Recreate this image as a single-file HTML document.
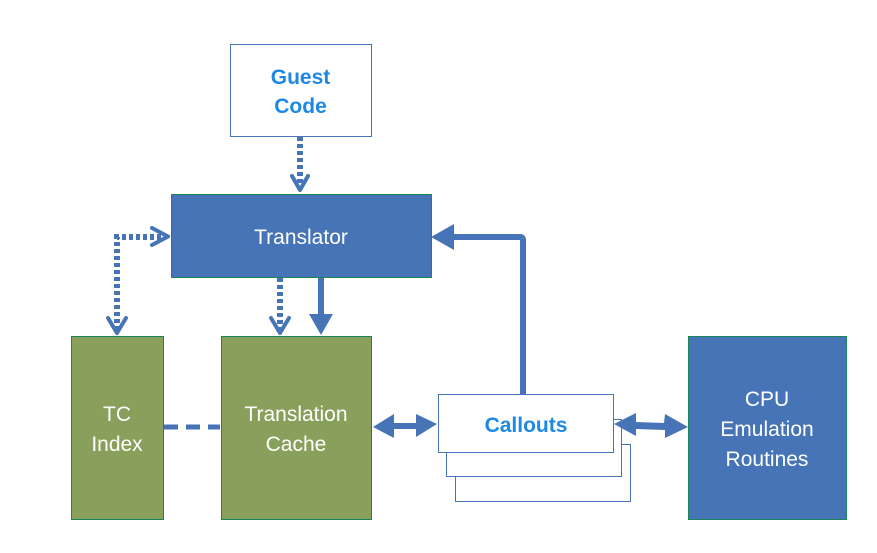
<!DOCTYPE html>
<html><head><meta charset="utf-8"><style>
html,body{margin:0;padding:0;background:#fff;width:877px;height:553px;overflow:hidden}
text{font-family:"Liberation Sans",sans-serif}
</style></head><body>
<svg width="877" height="553" viewBox="0 0 877 553" xmlns="http://www.w3.org/2000/svg">
<g fill="#fff">
<rect x="230.5" y="44.5" width="141" height="92" fill="#fff" stroke="#4674B7" stroke-width="1"/>
<rect x="171.5" y="194.5" width="260" height="83" fill="#4674B7" stroke="#17875a" stroke-width="1"/>
<rect x="71.5" y="336.5" width="92" height="183" fill="#88A05B" stroke="#17875a" stroke-width="1"/>
<rect x="221.5" y="336.5" width="150" height="183" fill="#88A05B" stroke="#17875a" stroke-width="1"/>
<rect x="688.5" y="336.5" width="158" height="183" fill="#4674B7" stroke="#17875a" stroke-width="1"/>
<rect x="455.5" y="444.5" width="175" height="57" fill="#fff" stroke="#4674B7" stroke-width="1"/>
<rect x="446.5" y="419.5" width="175" height="57" fill="#fff" stroke="#4674B7" stroke-width="1"/>
<rect x="438.5" y="394.5" width="175" height="58" fill="#fff" stroke="#4674B7" stroke-width="1"/>
</g>
<g fill="none" stroke="#4674B7">
<line x1="300" y1="137" x2="300" y2="188" stroke-width="6" stroke-dasharray="4,3"/>
<path d="M292,176 L300,190 L308,176" stroke-width="4" stroke-linecap="round" stroke-linejoin="round"/>
<path d="M117,330 L117,237 L166,237" stroke-width="6" stroke-dasharray="4,3"/>
<path d="M152,228 L168,236.5 L152,245" stroke-width="4" stroke-linecap="round" stroke-linejoin="round"/>
<path d="M108,318 L117,333 L126,318" stroke-width="4" stroke-linecap="round" stroke-linejoin="round"/>
<line x1="280" y1="278" x2="280" y2="330" stroke-width="6" stroke-dasharray="4,3"/>
<path d="M271,318 L280,333 L289,318" stroke-width="4" stroke-linecap="round" stroke-linejoin="round"/>
<line x1="321" y1="278" x2="321" y2="315" stroke-width="6"/>
<path d="M523,394 L523,240 Q523,237 520,237 L452,237" stroke-width="6"/>
<line x1="164" y1="427" x2="220" y2="427" stroke-width="5" stroke-dasharray="14,8"/>
</g>
<g fill="#4674B7">
<polygon points="309,314 333,314 321,335"/>
<polygon points="431,237 454,224 454,250"/>
<polygon points="373,427 394,414 394,423 416,423 416,414 437,424 416,437 416,429 394,429 394,438"/>
<polygon points="614,424 636,413 636,422 664,423 665,414 688,427 665,438 665,430 636,429 636,436"/>
</g>
<text x="300.5" y="84" text-anchor="middle" font-size="21" font-weight="bold" fill="#1E88E5">Guest</text>
<text x="300.5" y="113" text-anchor="middle" font-size="21" font-weight="bold" fill="#1E88E5">Code</text>
<text x="301" y="244" text-anchor="middle" font-size="21" fill="#fff">Translator</text>
<text x="117" y="421" text-anchor="middle" font-size="21" fill="#fff">TC</text>
<text x="117" y="451" text-anchor="middle" font-size="21" fill="#fff">Index</text>
<text x="296" y="421" text-anchor="middle" font-size="21" fill="#fff">Translation</text>
<text x="296" y="451" text-anchor="middle" font-size="21" fill="#fff">Cache</text>
<text x="526" y="432" text-anchor="middle" font-size="21" font-weight="bold" fill="#1E88E5">Callouts</text>
<text x="767" y="406" text-anchor="middle" font-size="21" fill="#fff">CPU</text>
<text x="767" y="436" text-anchor="middle" font-size="21" fill="#fff">Emulation</text>
<text x="767" y="466" text-anchor="middle" font-size="21" fill="#fff">Routines</text>
</svg>
</body></html>
